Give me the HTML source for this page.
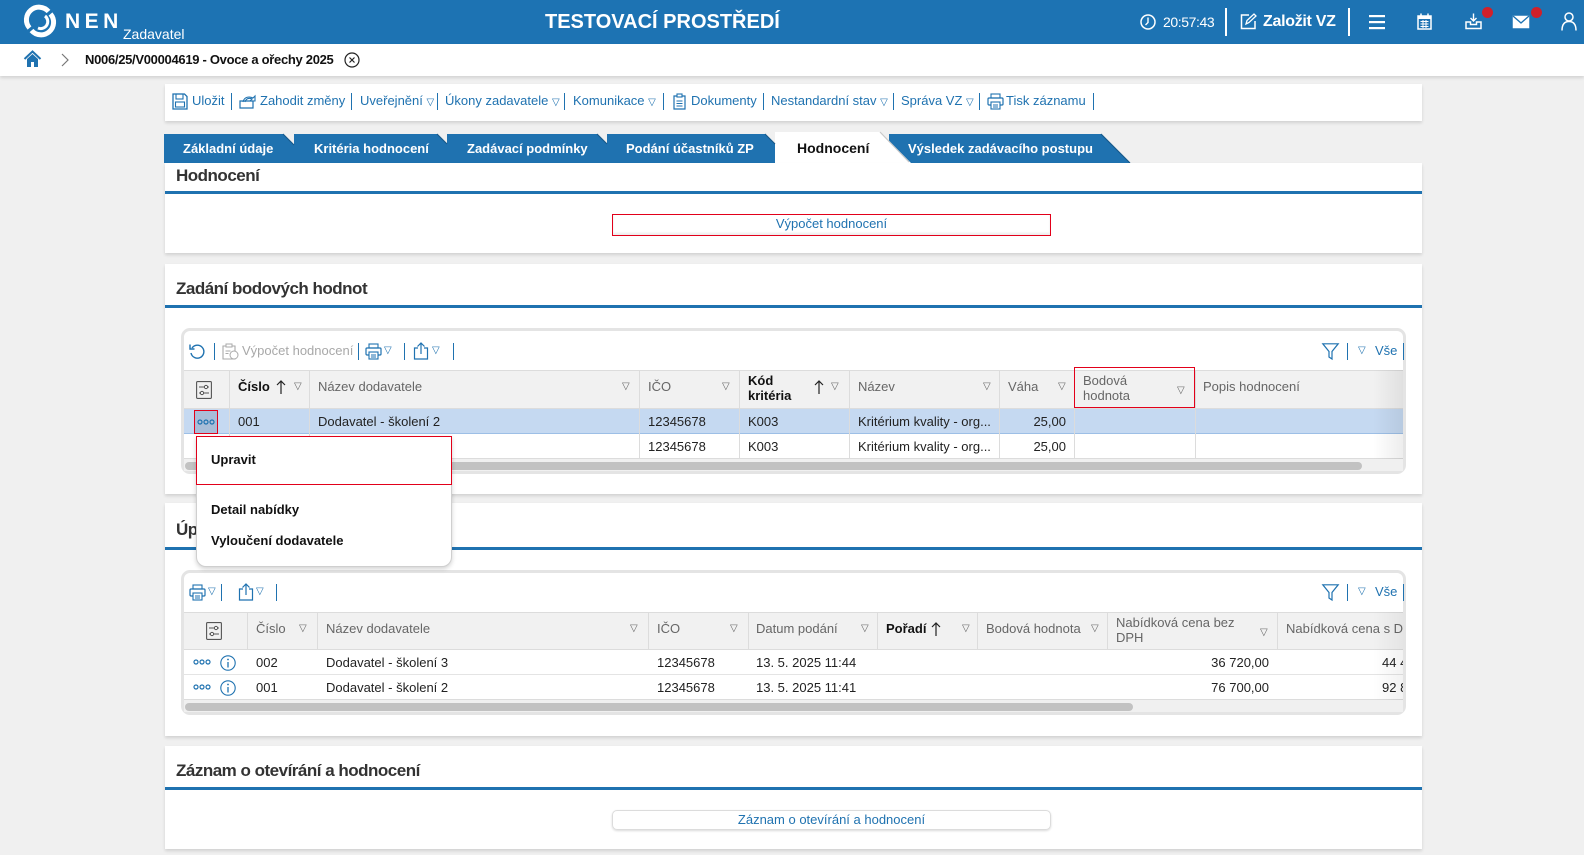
<!DOCTYPE html>
<html><head><meta charset="utf-8">
<style>
*{margin:0;padding:0;box-sizing:border-box}
body{width:1584px;height:855px;overflow:hidden;background:#f0f0f0;font-family:"Liberation Sans",Arial,sans-serif;font-size:13px;color:#222;position:relative}
.a{position:absolute;white-space:nowrap;line-height:16px}
.b{font-weight:bold}
.g{color:#666}
.bl{color:#1f72b0}
.w{color:#fff}
.card{position:absolute;left:165px;width:1257px;background:#fff;box-shadow:0 2px 3px rgba(0,0,0,.13)}
.ttl{position:absolute;left:176px;font-weight:bold;font-size:17px;letter-spacing:-0.5px;color:#333;line-height:20px;white-space:nowrap}
.bline{position:absolute;left:165px;width:1257px;height:3px;background:#1f72b0}
.sep{position:absolute;width:1px;height:17px;background:#1f72b0}
.vl{position:absolute;width:1px;background:#dcdcdc}
.hl{position:absolute;height:1px;background:#dcdcdc}
.clip{position:absolute;left:0;top:0;width:1584px;height:855px}
svg{position:absolute;overflow:visible}
</style></head><body>

<!-- HEADER -->
<div class="a" style="left:0;top:0;width:1584px;height:44px;background:#1d73b3"></div>
<svg style="left:26px;top:7px" width="28" height="28" viewBox="0 0 28 28">
 <path d="M22.5 4.5 A12 12 0 0 0 3.5 21" fill="none" stroke="#fff" stroke-width="5"/>
 <path d="M5.5 23.5 A12 12 0 0 0 24.5 7" fill="none" stroke="#fff" stroke-width="5"/>
 <path d="M19 9 A7 7 0 0 1 12 21" fill="none" stroke="#fff" stroke-width="3"/>
</svg>
<div class="a w b" style="left:65px;top:10px;font-size:21px;line-height:24px;letter-spacing:4.5px">NEN</div>
<div class="a w" style="left:123px;top:26px;font-size:14px">Zadavatel</div>
<div class="a w b" style="left:545px;top:10px;font-size:20px;line-height:24px;letter-spacing:0px">TESTOVACÍ PROSTŘEDÍ</div>

<svg style="left:1140px;top:14px" width="16" height="16" viewBox="0 0 16 16"><circle cx="8" cy="8" r="7" fill="none" stroke="#fff" stroke-width="1.5"/><path d="M8 3.5V8.5L5.5 11" fill="none" stroke="#fff" stroke-width="1.4"/></svg>
<div class="a w" style="left:1163px;top:14px;font-size:14px;letter-spacing:-0.4px">20:57:43</div>
<div class="a" style="left:1225px;top:8px;width:2px;height:28px;background:#fff"></div>
<svg style="left:1240px;top:13px" width="17" height="17" viewBox="0 0 17 17"><path d="M9 2H1.5V15.5H15V8" fill="none" stroke="#fff" stroke-width="1.5"/><path d="M6 11L7 7.5L14 1L16 3L9 9.5Z" fill="none" stroke="#fff" stroke-width="1.3"/></svg>
<div class="a w b" style="left:1263px;top:12px;font-size:16px;line-height:20px;letter-spacing:-0.3px">Založit VZ</div>
<div class="a" style="left:1348px;top:8px;width:2px;height:28px;background:#fff"></div>
<svg style="left:1369px;top:14px" width="16" height="16"><rect x="0" y="1" width="16" height="2.2" fill="#fff"/><rect x="0" y="7" width="16" height="2.2" fill="#fff"/><rect x="0" y="13" width="16" height="2.2" fill="#fff"/></svg>
<svg style="left:1417px;top:13px" width="15" height="17"><rect x="1" y="3" width="13" height="13" fill="none" stroke="#fff" stroke-width="1.5"/><rect x="1" y="3" width="13" height="3" fill="#fff"/><path d="M4 0.5V4M11 0.5V4" stroke="#fff" stroke-width="1.5"/><path d="M3.5 8.5h8M3.5 11h8M3.5 13.5h8M6 7v8M9 7v8" stroke="#fff" stroke-width="1"/></svg>
<svg style="left:1465px;top:13px" width="17" height="17"><path d="M8.5 0.5V8M5.5 5L8.5 8L11.5 5" fill="none" stroke="#fff" stroke-width="1.4"/><path d="M1 9V15.5H16V9H11.5V11.5H5.5V9Z" fill="none" stroke="#fff" stroke-width="1.5"/></svg>
<div class="a" style="left:1482px;top:7px;width:11px;height:11px;border-radius:50%;background:#d0202a"></div>
<svg style="left:1512px;top:15px" width="18" height="14"><rect x="0.75" y="0.75" width="16.5" height="12.5" fill="#fff"/><path d="M1 1L9 8L17 1" fill="none" stroke="#1d73b3" stroke-width="1.4"/></svg>
<div class="a" style="left:1531px;top:7px;width:11px;height:11px;border-radius:50%;background:#d0202a"></div>
<svg style="left:1561px;top:12px" width="16" height="19"><circle cx="8" cy="5" r="4" fill="none" stroke="#fff" stroke-width="1.5"/><path d="M1 18.5C1 12 4 9.5 8 9.5S15 12 15 18.5" fill="none" stroke="#fff" stroke-width="1.5"/></svg>

<!-- BREADCRUMB -->
<div class="a" style="left:0;top:44px;width:1584px;height:32px;background:#fff;box-shadow:0 2px 3px rgba(0,0,0,.12)"></div>
<svg style="left:24px;top:51px" width="17" height="16" viewBox="0 0 17 16"><path d="M0.5 8L8.5 0.5L16.5 8" fill="none" stroke="#1f72b0" stroke-width="2"/><path d="M3 8V16H7V11H10V16H14V8L8.5 3Z" fill="#1f72b0"/></svg>
<svg style="left:61px;top:53px" width="8" height="14"><path d="M1 1L7 7L1 13" fill="none" stroke="#777" stroke-width="1.2"/></svg>
<div class="a b" style="left:85px;top:52px;font-size:13px;letter-spacing:-0.3px;color:#111">N006/25/V00004619 - Ovoce a ořechy 2025</div>
<svg style="left:344px;top:52px" width="16" height="16"><circle cx="8" cy="8" r="7" fill="none" stroke="#222" stroke-width="1.2"/><path d="M5.5 5.5L10.5 10.5M10.5 5.5L5.5 10.5" stroke="#222" stroke-width="1.2"/></svg>

<!-- TOOLBAR CARD -->
<div class="card" style="top:84px;height:37px"></div>
<svg style="left:172px;top:93px" width="16" height="17"><path d="M1 1H12.5L15 3.5V16H1Z" fill="none" stroke="#1f72b0" stroke-width="1.3"/><rect x="4" y="1" width="7" height="5" fill="none" stroke="#1f72b0" stroke-width="1.1"/><rect x="3.5" y="9" width="9" height="5" fill="none" stroke="#1f72b0" stroke-width="1.1"/></svg>
<div class="a bl" style="left:192px;top:93px">Uložit</div>
<div class="sep" style="left:231px;top:93px"></div>
<svg style="left:239px;top:94px" width="18" height="15"><path d="M1 7H14V14H1Z" fill="none" stroke="#1f72b0" stroke-width="1.2"/><path d="M4 8C5 3 10 2 14 4L16 2V7H11L13 5C10 3.5 7 4.5 6 8" fill="none" stroke="#1f72b0" stroke-width="1.1"/></svg>
<div class="a bl" style="left:260px;top:93px">Zahodit změny</div>
<div class="sep" style="left:351px;top:93px"></div>
<div class="a bl" style="left:360px;top:93px">Uveřejnění <span style="font-size:10px">▽</span></div>
<div class="sep" style="left:437px;top:93px"></div>
<div class="a bl" style="left:445px;top:93px">Úkony zadavatele <span style="font-size:10px">▽</span></div>
<div class="sep" style="left:564px;top:93px"></div>
<div class="a bl" style="left:573px;top:93px">Komunikace <span style="font-size:10px">▽</span></div>
<div class="sep" style="left:663px;top:93px"></div>
<svg style="left:673px;top:93px" width="13" height="17"><path d="M1 3H12V16H1Z" fill="none" stroke="#1f72b0" stroke-width="1.2"/><rect x="4" y="1" width="5" height="3" fill="#fff" stroke="#1f72b0" stroke-width="1.1"/><path d="M3.5 8h6M3.5 10.5h6M3.5 13h6" stroke="#1f72b0" stroke-width="1"/></svg>
<div class="a bl" style="left:691px;top:93px">Dokumenty</div>
<div class="sep" style="left:763px;top:93px"></div>
<div class="a bl" style="left:771px;top:93px">Nestandardní stav <span style="font-size:10px">▽</span></div>
<div class="sep" style="left:893px;top:93px"></div>
<div class="a bl" style="left:901px;top:93px">Správa VZ <span style="font-size:10px">▽</span></div>
<div class="sep" style="left:979px;top:93px"></div>
<svg style="left:987px;top:93px" width="17" height="17"><rect x="4" y="1" width="9" height="4" fill="none" stroke="#1f72b0" stroke-width="1.1"/><rect x="1" y="5" width="15" height="7" rx="1" fill="none" stroke="#1f72b0" stroke-width="1.2"/><rect x="4" y="9" width="9" height="7" fill="#fff" stroke="#1f72b0" stroke-width="1.1"/><path d="M6 12h5M6 14h5" stroke="#1f72b0"/></svg>
<div class="a bl" style="left:1006px;top:93px">Tisk záznamu</div>
<div class="sep" style="left:1093px;top:93px"></div>

<!-- TABS -->
<svg style="left:0;top:0" width="1584" height="170">
 <polygon points="889,134 1101,134 1130,163 889,163" fill="#1f72b0"/>
 <polygon points="164,134 283,134 312,163 164,163" fill="#1f72b0"/>
 <polygon points="294,134 437,134 466,163 294,163" fill="#1f72b0"/>
 <polygon points="447,134 597,134 626,163 447,163" fill="#1f72b0"/>
 <polygon points="607,134 765,134 794,163 607,163" fill="#1f72b0"/>
 <polygon points="775,132 880,132 911,163 775,163" fill="#fff"/>
 <path d="M283 134L294 145M437 134L447 144M597 134L607 144M765 134L775 144M1101 134L1130 163" stroke="#17598a" stroke-width="1.2"/>
 <path d="M880 132L909 162" stroke="#c9c9c9" stroke-width="1.2"/>
</svg>
<div class="a w b" style="left:183px;top:141px;font-size:13px">Základní údaje</div>
<div class="a w b" style="left:314px;top:141px;font-size:13px">Kritéria hodnocení</div>
<div class="a w b" style="left:467px;top:141px;font-size:13px">Zadávací podmínky</div>
<div class="a w b" style="left:626px;top:141px;font-size:13px">Podání účastníků ZP</div>
<div class="a b" style="left:797px;top:140px;font-size:14px;color:#111">Hodnocení</div>
<div class="a w b" style="left:908px;top:141px;font-size:13px">Výsledek zadávacího postupu</div>

<!-- CARD 1 -->
<div class="a" style="left:165px;top:163px;width:1257px;height:90px;background:#fff;box-shadow:0 2px 3px rgba(0,0,0,.13)"></div>
<div class="ttl" style="top:166px">Hodnocení</div>
<div class="bline" style="top:191px"></div>
<div class="a bl" style="left:612px;top:214px;width:439px;height:22px;border:1.5px solid #e2001a;text-align:center;line-height:18px;box-shadow:inset 0 -2px 2px rgba(0,0,0,.08)">Výpočet hodnocení</div>

<!-- CARD 2 -->
<div class="card" style="top:264px;height:230px"></div>
<div class="ttl" style="top:279px">Zadání bodových hodnot</div>
<div class="bline" style="top:305px"></div>

<!-- GRID 1 -->
<div class="a" style="left:181px;top:328px;width:1225px;height:146px;border:3px solid #e4e4e4;border-radius:9px;background:#fff"></div>
<svg style="left:189px;top:343px" width="17" height="17"><path d="M3 5A6.5 6.5 0 1 1 2 10" fill="none" stroke="#1f72b0" stroke-width="1.4"/><path d="M1 1.5V6H5.5" fill="none" stroke="#1f72b0" stroke-width="1.4"/></svg>
<div class="sep" style="left:214px;top:343px"></div>
<svg style="left:222px;top:343px" width="17" height="17"><path d="M1 3H13V16H1Z" fill="none" stroke="#aaa" stroke-width="1.1"/><rect x="4" y="1" width="6" height="3" fill="#fff" stroke="#aaa"/><circle cx="12" cy="12" r="4" fill="#fff" stroke="#aaa"/><path d="M3.5 8h5M3.5 10.5h3" stroke="#aaa"/></svg>
<div class="a" style="left:242px;top:343px;color:#a8a8a8">Výpočet hodnocení</div>
<div class="sep" style="left:358px;top:343px"></div>
<svg style="left:365px;top:343px" width="17" height="17"><rect x="4" y="1" width="9" height="4" fill="none" stroke="#1f72b0" stroke-width="1.1"/><rect x="1" y="5" width="15" height="7" rx="1" fill="none" stroke="#1f72b0" stroke-width="1.2"/><rect x="4" y="9" width="9" height="7" fill="#fff" stroke="#1f72b0" stroke-width="1.1"/><path d="M6 12h5M6 14h5" stroke="#1f72b0"/></svg>
<div class="a bl" style="left:384px;top:343px;font-size:10px">▽</div>
<div class="sep" style="left:404px;top:343px"></div>
<svg style="left:413px;top:342px" width="16" height="18"><path d="M5 6H1.5V17H14.5V6H11" fill="none" stroke="#1f72b0" stroke-width="1.2"/><path d="M8 12V1M4.5 4.5L8 1L11.5 4.5" fill="none" stroke="#1f72b0" stroke-width="1.2"/></svg>
<div class="a bl" style="left:432px;top:343px;font-size:10px">▽</div>
<div class="sep" style="left:453px;top:343px"></div>
<svg style="left:1322px;top:343px" width="17" height="17"><path d="M0.8 0.8H16.2L10 8.5V16L7 14V8.5Z" fill="none" stroke="#1f72b0" stroke-width="1.2"/></svg>
<div class="sep" style="left:1347px;top:343px"></div>
<div class="a bl" style="left:1358px;top:343px;font-size:10px">▽</div>
<div class="a bl" style="left:1375px;top:343px">Vše</div>
<div class="sep" style="left:1403px;top:343px"></div>

<div class="clip" style="clip-path:inset(331px 181px 384px 184px)">
 <div class="a" style="left:184px;top:370px;width:1219px;height:39px;background:#f1f1f1"></div>
 <div class="hl" style="left:184px;top:370px;width:1219px"></div>
 <div class="hl" style="left:184px;top:408px;width:1219px"></div>
 <div class="a" style="left:184px;top:409px;width:1219px;height:25px;background:#c5d9f1"></div>
 <div class="hl" style="left:184px;top:433px;width:1219px;background:#9dbfe6"></div>
 <div class="hl" style="left:184px;top:458px;width:1219px"></div>
 <div class="a" style="left:184px;top:459px;width:1219px;height:12px;background:#f0f0f0"></div>
 <div class="a" style="left:185px;top:462px;width:1177px;height:8px;border-radius:4px;background:#c2c2c2"></div>
 <div class="vl" style="left:229px;top:370px;height:89px"></div>
 <div class="vl" style="left:309px;top:370px;height:89px"></div>
 <div class="vl" style="left:639px;top:370px;height:89px"></div>
 <div class="vl" style="left:739px;top:370px;height:89px"></div>
 <div class="vl" style="left:849px;top:370px;height:89px"></div>
 <div class="vl" style="left:999px;top:370px;height:89px"></div>
 <div class="vl" style="left:1074px;top:370px;height:89px"></div>
 <div class="vl" style="left:1195px;top:370px;height:89px"></div>
 <!-- header -->
 <svg style="left:196px;top:381px" width="16" height="18"><rect x="0.6" y="0.6" width="14.8" height="16.8" rx="1" fill="none" stroke="#555" stroke-width="1.1"/><path d="M3 6H13M3 12H13" stroke="#555"/><circle cx="10" cy="6" r="1.6" fill="#fff" stroke="#555"/><circle cx="6" cy="12" r="1.6" fill="#fff" stroke="#555"/></svg>
 <div class="a b" style="left:238px;top:379px;color:#111">Číslo</div>
 <svg style="left:276px;top:380px" width="10" height="14"><path d="M5 1V14M1 5L5 1L9 5" fill="none" stroke="#222" stroke-width="1.2"/></svg>
 <div class="a g" style="left:294px;top:379px;font-size:10px">▽</div>
 <div class="a g" style="left:318px;top:379px">Název dodavatele</div>
 <div class="a g" style="left:622px;top:379px;font-size:10px">▽</div>
 <div class="a g" style="left:648px;top:379px">IČO</div>
 <div class="a g" style="left:722px;top:379px;font-size:10px">▽</div>
 <div class="a b" style="left:748px;top:373px;line-height:15px;color:#111">Kód<br>kritéria</div>
 <svg style="left:814px;top:380px" width="10" height="14"><path d="M5 1V14M1 5L5 1L9 5" fill="none" stroke="#222" stroke-width="1.2"/></svg>
 <div class="a g" style="left:831px;top:379px;font-size:10px">▽</div>
 <div class="a g" style="left:858px;top:379px">Název</div>
 <div class="a g" style="left:983px;top:379px;font-size:10px">▽</div>
 <div class="a g" style="left:1008px;top:379px">Váha</div>
 <div class="a g" style="left:1058px;top:379px;font-size:10px">▽</div>
 <div class="a g" style="left:1083px;top:373px;line-height:15px">Bodová<br>hodnota</div>
 <div class="a g" style="left:1177px;top:383px;font-size:10px">▽</div>
 <div class="a g" style="left:1203px;top:379px">Popis hodnocení</div>
 <!-- row1 -->
 <div class="a" style="left:194px;top:410px;width:24px;height:24px;background:#a9bdd8;border:1px solid #e2001a"></div>
 <svg style="left:197px;top:419px" width="18" height="6"><circle cx="3" cy="3" r="2" fill="none" stroke="#1f72b0" stroke-width="1.2"/><circle cx="9" cy="3" r="2" fill="none" stroke="#1f72b0" stroke-width="1.2"/><circle cx="15" cy="3" r="2" fill="none" stroke="#1f72b0" stroke-width="1.2"/></svg>
 <div class="a" style="left:238px;top:414px">001</div>
 <div class="a" style="left:318px;top:414px">Dodavatel - školení 2</div>
 <div class="a" style="left:648px;top:414px">12345678</div>
 <div class="a" style="left:748px;top:414px">K003</div>
 <div class="a" style="left:858px;top:414px">Kritérium kvality - org...</div>
 <div class="a" style="left:1020px;top:414px;width:46px;text-align:right">25,00</div>
 <!-- row2 -->
 <div class="a" style="left:648px;top:439px">12345678</div>
 <div class="a" style="left:748px;top:439px">K003</div>
 <div class="a" style="left:858px;top:439px">Kritérium kvality - org...</div>
 <div class="a" style="left:1020px;top:439px;width:46px;text-align:right">25,00</div>
 <div class="a" style="left:1373px;top:370px;width:30px;height:89px;background:linear-gradient(to right,rgba(0,0,0,0),rgba(0,0,0,.07))"></div>
</div>
<div class="a" style="left:1074px;top:367px;width:121px;height:41px;border:1px solid #e2001a"></div>

<!-- CARD 3 -->
<div class="card" style="top:503px;height:233px"></div>
<div class="ttl" style="top:520px">Úprava pořadí</div>
<div class="bline" style="top:547px"></div>

<!-- GRID 2 -->
<div class="a" style="left:181px;top:570px;width:1225px;height:145px;border:3px solid #e4e4e4;border-radius:9px;background:#fff"></div>
<svg style="left:189px;top:584px" width="17" height="17"><rect x="4" y="1" width="9" height="4" fill="none" stroke="#1f72b0" stroke-width="1.1"/><rect x="1" y="5" width="15" height="7" rx="1" fill="none" stroke="#1f72b0" stroke-width="1.2"/><rect x="4" y="9" width="9" height="7" fill="#fff" stroke="#1f72b0" stroke-width="1.1"/><path d="M6 12h5M6 14h5" stroke="#1f72b0"/></svg>
<div class="a bl" style="left:208px;top:584px;font-size:10px">▽</div>
<div class="sep" style="left:221px;top:584px"></div>
<svg style="left:238px;top:583px" width="16" height="18"><path d="M5 6H1.5V17H14.5V6H11" fill="none" stroke="#1f72b0" stroke-width="1.2"/><path d="M8 12V1M4.5 4.5L8 1L11.5 4.5" fill="none" stroke="#1f72b0" stroke-width="1.2"/></svg>
<div class="a bl" style="left:256px;top:584px;font-size:10px">▽</div>
<div class="sep" style="left:276px;top:584px"></div>
<svg style="left:1322px;top:584px" width="17" height="17"><path d="M0.8 0.8H16.2L10 8.5V16L7 14V8.5Z" fill="none" stroke="#1f72b0" stroke-width="1.2"/></svg>
<div class="sep" style="left:1347px;top:584px"></div>
<div class="a bl" style="left:1358px;top:584px;font-size:10px">▽</div>
<div class="a bl" style="left:1375px;top:584px">Vše</div>
<div class="sep" style="left:1403px;top:584px"></div>

<div class="clip" style="clip-path:inset(573px 181px 143px 184px)">
 <div class="a" style="left:184px;top:612px;width:1219px;height:38px;background:#f1f1f1"></div>
 <div class="hl" style="left:184px;top:612px;width:1219px"></div>
 <div class="hl" style="left:184px;top:649px;width:1219px"></div>
 <div class="hl" style="left:184px;top:674px;width:1219px;background:#e4e4e4"></div>
 <div class="hl" style="left:184px;top:699px;width:1219px"></div>
 <div class="a" style="left:184px;top:700px;width:1219px;height:12px;background:#f0f0f0"></div>
 <div class="a" style="left:185px;top:703px;width:948px;height:8px;border-radius:4px;background:#c2c2c2"></div>
 <div class="vl" style="left:247px;top:612px;height:38px"></div>
 <div class="vl" style="left:317px;top:612px;height:38px"></div>
 <div class="vl" style="left:648px;top:612px;height:38px"></div>
 <div class="vl" style="left:748px;top:612px;height:38px"></div>
 <div class="vl" style="left:877px;top:612px;height:38px"></div>
 <div class="vl" style="left:977px;top:612px;height:38px"></div>
 <div class="vl" style="left:1107px;top:612px;height:38px"></div>
 <div class="vl" style="left:1277px;top:612px;height:38px"></div>
 <svg style="left:206px;top:622px" width="16" height="18"><rect x="0.6" y="0.6" width="14.8" height="16.8" rx="1" fill="none" stroke="#555" stroke-width="1.1"/><path d="M3 6H13M3 12H13" stroke="#555"/><circle cx="10" cy="6" r="1.6" fill="#fff" stroke="#555"/><circle cx="6" cy="12" r="1.6" fill="#fff" stroke="#555"/></svg>
 <div class="a g" style="left:256px;top:621px">Číslo</div>
 <div class="a g" style="left:299px;top:621px;font-size:10px">▽</div>
 <div class="a g" style="left:326px;top:621px">Název dodavatele</div>
 <div class="a g" style="left:630px;top:621px;font-size:10px">▽</div>
 <div class="a g" style="left:657px;top:621px">IČO</div>
 <div class="a g" style="left:730px;top:621px;font-size:10px">▽</div>
 <div class="a g" style="left:756px;top:621px">Datum podání</div>
 <div class="a g" style="left:861px;top:621px;font-size:10px">▽</div>
 <div class="a b" style="left:886px;top:621px;color:#111">Pořadí</div>
 <svg style="left:931px;top:622px" width="10" height="14"><path d="M5 1V14M1 5L5 1L9 5" fill="none" stroke="#222" stroke-width="1.2"/></svg>
 <div class="a g" style="left:962px;top:621px;font-size:10px">▽</div>
 <div class="a g" style="left:986px;top:621px">Bodová hodnota</div>
 <div class="a g" style="left:1091px;top:621px;font-size:10px">▽</div>
 <div class="a g" style="left:1116px;top:615px;line-height:15px">Nabídková cena bez<br>DPH</div>
 <div class="a g" style="left:1260px;top:625px;font-size:10px">▽</div>
 <div class="a g" style="left:1286px;top:621px">Nabídková cena s DPH</div>
 <!-- rows -->
 <svg style="left:193px;top:659px" width="18" height="6"><circle cx="3" cy="3" r="2" fill="none" stroke="#1f72b0" stroke-width="1.2"/><circle cx="9" cy="3" r="2" fill="none" stroke="#1f72b0" stroke-width="1.2"/><circle cx="15" cy="3" r="2" fill="none" stroke="#1f72b0" stroke-width="1.2"/></svg>
 <svg style="left:220px;top:655px" width="16" height="16"><circle cx="8" cy="8" r="7.2" fill="none" stroke="#1f72b0" stroke-width="1.1"/><path d="M8 7V12.5" stroke="#1f72b0" stroke-width="1.3"/><circle cx="8" cy="4.5" r="0.9" fill="#1f72b0"/></svg>
 <div class="a" style="left:256px;top:655px">002</div>
 <div class="a" style="left:326px;top:655px">Dodavatel - školení 3</div>
 <div class="a" style="left:657px;top:655px">12345678</div>
 <div class="a" style="left:756px;top:655px">13. 5. 2025 11:44</div>
 <div class="a" style="left:1169px;top:655px;width:100px;text-align:right">36 720,00</div>
 <div class="a" style="left:1382px;top:655px">44 431,20</div>
 <svg style="left:193px;top:684px" width="18" height="6"><circle cx="3" cy="3" r="2" fill="none" stroke="#1f72b0" stroke-width="1.2"/><circle cx="9" cy="3" r="2" fill="none" stroke="#1f72b0" stroke-width="1.2"/><circle cx="15" cy="3" r="2" fill="none" stroke="#1f72b0" stroke-width="1.2"/></svg>
 <svg style="left:220px;top:680px" width="16" height="16"><circle cx="8" cy="8" r="7.2" fill="none" stroke="#1f72b0" stroke-width="1.1"/><path d="M8 7V12.5" stroke="#1f72b0" stroke-width="1.3"/><circle cx="8" cy="4.5" r="0.9" fill="#1f72b0"/></svg>
 <div class="a" style="left:256px;top:680px">001</div>
 <div class="a" style="left:326px;top:680px">Dodavatel - školení 2</div>
 <div class="a" style="left:657px;top:680px">12345678</div>
 <div class="a" style="left:756px;top:680px">13. 5. 2025 11:41</div>
 <div class="a" style="left:1169px;top:680px;width:100px;text-align:right">76 700,00</div>
 <div class="a" style="left:1382px;top:680px">92 807,00</div>
 <div class="a" style="left:1373px;top:612px;width:30px;height:88px;background:linear-gradient(to right,rgba(0,0,0,0),rgba(0,0,0,.05))"></div>
</div>

<!-- CARD 4 -->
<div class="card" style="top:746px;height:103px"></div>
<div class="ttl" style="top:761px">Záznam o otevírání a hodnocení</div>
<div class="bline" style="top:787px"></div>
<div class="a bl" style="left:612px;top:810px;width:439px;height:20px;border:1px solid #dcdcdc;border-radius:5px;text-align:center;line-height:18px;box-shadow:0 1px 2px rgba(0,0,0,.15)">Záznam o otevírání a hodnocení</div>

<!-- DROPDOWN MENU -->
<div class="a" style="left:196px;top:436px;width:256px;height:131px;background:#fff;border:1px solid #cfcfcf;border-radius:0 0 10px 10px;box-shadow:0 2px 5px rgba(0,0,0,.18)"></div>
<div class="a" style="left:196px;top:436px;width:256px;height:49px;border:1px solid #e2001a"></div>
<div class="a b" style="left:211px;top:452px;color:#111">Upravit</div>
<div class="a b" style="left:211px;top:502px;color:#111">Detail nabídky</div>
<div class="a b" style="left:211px;top:533px;color:#111">Vyloučení dodavatele</div>

</body></html>
